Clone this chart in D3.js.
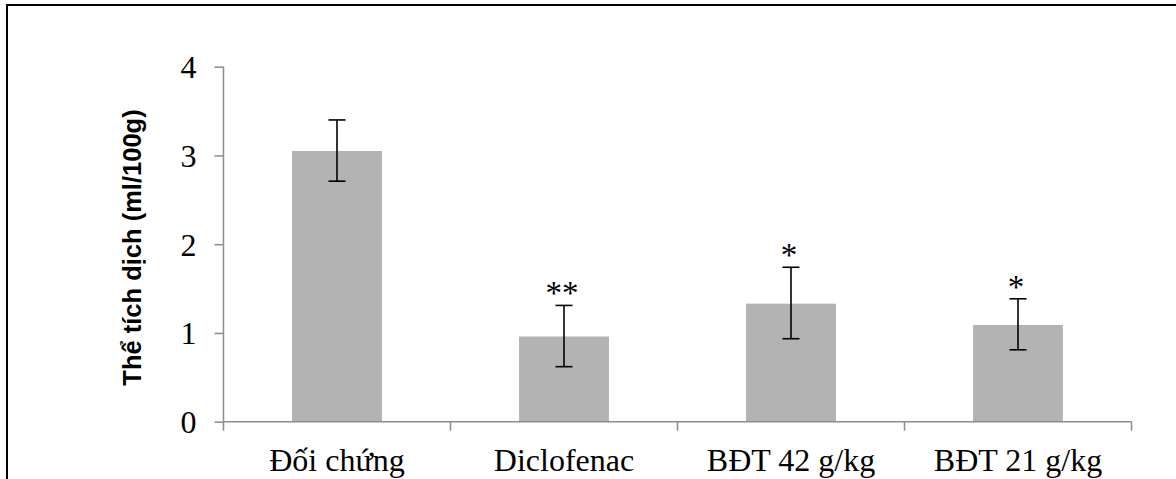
<!DOCTYPE html>
<html><head><meta charset="utf-8">
<script src="https://cdn.jsdelivr.net/npm/d3@7"></script>
<style>
body{margin:0;background:#fff}svg{display:block}
.serif{font-family:"Liberation Serif","Times New Roman",Times,serif;}
.sansb{font-family:"Liberation Sans",Arial,Helvetica,sans-serif;font-weight:bold;}
</style>
</head><body>
<svg id="c" width="1176" height="479"></svg>
<script>
const categories = ["Đối chứng", "Diclofenac", "BĐT 42 g/kg", "BĐT 21 g/kg"];
const means = [3.05, 0.96, 1.33, 1.09];
const errUpper = [3.40, 1.31, 1.74, 1.385];
const errLower = [2.71, 0.62, 0.935, 0.81];
const marks = ["", "**", "*", "*"];
const yTicks = [0, 1, 2, 3, 4];
const yLabel = "Thể tích dịch (ml/100g)";

const svg = d3.select("#c");
svg.append("rect").attr("x", 7).attr("y", 5).attr("width", 1200).attr("height", 520)
  .attr("fill", "none").attr("stroke", "#000").attr("stroke-width", 2);

const x0 = 223.5, x1 = 1131.5, yTop = 66.7, yBot = 421.7;
const x = d3.scaleBand().domain(categories).range([x0, x1]).paddingInner(0.604).paddingOuter(0.302);
const y = d3.scaleLinear().domain([0, 4]).range([yBot, yTop]);
const axisColor = "#8c8c8c";

svg.selectAll("rect.bar").data(categories).enter().append("rect")
  .attr("class", "bar")
  .attr("x", d => x(d)).attr("width", x.bandwidth())
  .attr("y", (d, i) => y(means[i])).attr("height", (d, i) => y(0) - y(means[i]))
  .attr("fill", "#b3b3b3");

const yAxis = svg.append("g").attr("transform", `translate(${x0},0)`)
  .call(d3.axisLeft(y).tickValues(yTicks).tickSize(9).tickPadding(18).tickFormat(d3.format("d")));
yAxis.attr("font-family", null).attr("font-size", null);
yAxis.select(".domain").remove();
yAxis.selectAll(".tick line").attr("stroke", axisColor).attr("stroke-width", 1.5);
yAxis.selectAll(".tick text").attr("class", "serif").style("font-size", "32px")
  .attr("fill", "#000").attr("dy", "0.34em");
svg.append("line").attr("x1", x0).attr("x2", x0).attr("y1", yTop).attr("y2", yBot + 9)
  .attr("stroke", axisColor).attr("stroke-width", 1.5);

svg.append("line").attr("x1", x0).attr("x2", x1).attr("y1", yBot).attr("y2", yBot)
  .attr("stroke", axisColor).attr("stroke-width", 1.5);
const step = x.step();
const bounds = categories.map((d, i) => x0 + step * (i + 1));
svg.selectAll("line.xt").data(bounds).enter().append("line")
  .attr("x1", d => d).attr("x2", d => d).attr("y1", yBot).attr("y2", yBot + 9)
  .attr("stroke", axisColor).attr("stroke-width", 1.5);
svg.selectAll("text.xl").data(categories).enter().append("text")
  .attr("class", "serif").style("font-size", "32px")
  .attr("x", d => x(d) + x.bandwidth() / 2).attr("y", 471)
  .attr("text-anchor", "middle")
  .text(d => d);

const cap = 8.5;
categories.forEach((d, i) => {
  const cx = x(d) + x.bandwidth() / 2;
  const g = svg.append("g").attr("stroke", "#000").attr("stroke-width", 1.6);
  g.append("line").attr("x1", cx).attr("x2", cx).attr("y1", y(errUpper[i])).attr("y2", y(errLower[i]));
  g.append("line").attr("x1", cx - cap).attr("x2", cx + cap).attr("y1", y(errUpper[i])).attr("y2", y(errUpper[i]));
  g.append("line").attr("x1", cx - cap).attr("x2", cx + cap).attr("y1", y(errLower[i])).attr("y2", y(errLower[i]));
  if (marks[i]) {
    svg.append("text").attr("class", "serif").style("font-size", "33px")
      .attr("x", cx - 2).attr("y", y(errUpper[i]) - 1)
      .attr("text-anchor", "middle")
      .text(marks[i]);
  }
});

svg.append("text").attr("class", "sansb").style("font-size", "25.5px")
  .attr("transform", "translate(141,247.5) rotate(-90)")
  .attr("text-anchor", "middle")
  .text(yLabel);
</script>
</body></html>
